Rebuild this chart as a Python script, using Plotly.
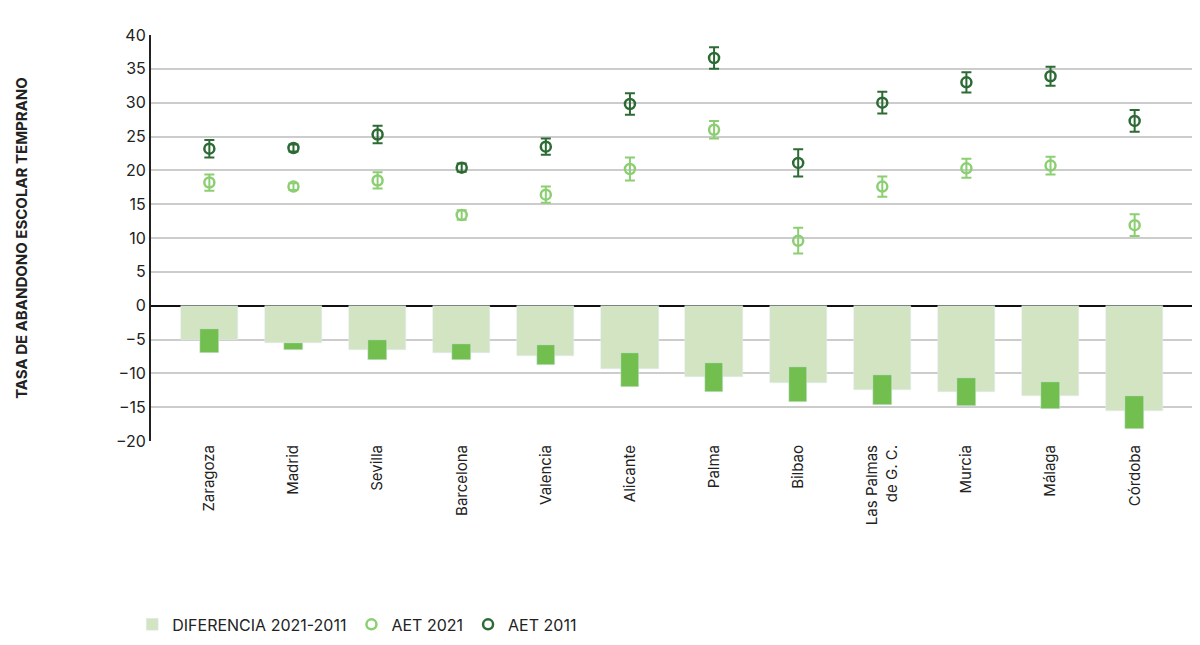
import plotly.graph_objects as go

# Datos
ciudades = ["Zaragoza", "Madrid", "Sevilla", "Barcelona", "Valencia", "Alicante", "Palma",
            "Bilbao", "Las Palmas<br>de G. C.", "Murcia", "Málaga", "Córdoba"]
diferencia = [-5.0, -5.5, -6.5, -7.0, -7.5, -9.3, -10.5, -11.5, -12.5, -12.8, -13.3, -15.5]
ic_sup = [-3.5, -5.5, -5.0, -5.7, -5.8, -7.0, -8.5, -9.0, -10.2, -10.7, -11.3, -13.3]
ic_inf = [-7.0, -6.5, -8.0, -8.0, -8.8, -12.0, -12.7, -14.3, -14.7, -14.8, -15.2, -18.2]
aet_2011 = [23.2, 23.3, 25.3, 20.4, 23.5, 29.8, 36.6, 21.1, 30.0, 33.0, 33.9, 27.3]
err_2011 = [1.3, 0.5, 1.3, 0.6, 1.2, 1.6, 1.6, 2.0, 1.6, 1.5, 1.4, 1.6]
aet_2021 = [18.2, 17.6, 18.5, 13.4, 16.4, 20.2, 26.0, 9.6, 17.6, 20.3, 20.7, 11.9]
err_2021 = [1.2, 0.5, 1.2, 0.7, 1.2, 1.7, 1.3, 1.9, 1.5, 1.4, 1.3, 1.6]

fig = go.Figure()

fig.add_trace(go.Bar(x=ciudades, y=diferencia, marker_color="#d3e4c3", width=0.68,
                     name="DIFERENCIA 2021-2011"))
fig.add_trace(go.Bar(x=ciudades, y=[a - b for a, b in zip(ic_inf, ic_sup)], base=ic_sup,
                     marker_color="#72bf4f", width=0.22, showlegend=False, hoverinfo="skip"))

fig.add_trace(go.Scatter(x=ciudades, y=aet_2021, mode="markers", name="AET 2021",
                         marker=dict(symbol="circle-open", size=10, color="#8ccf72", line=dict(width=2.5)),
                         error_y=dict(type="data", array=err_2021, color="#8ccf72", thickness=2, width=5)))
fig.add_trace(go.Scatter(x=ciudades, y=aet_2011, mode="markers", name="AET 2011",
                         marker=dict(symbol="circle-open", size=10, color="#2d6b35", line=dict(width=2.5)),
                         error_y=dict(type="data", array=err_2011, color="#2d6b35", thickness=2, width=5)))

fig.update_layout(
    width=1200, height=645, barmode="overlay", bargap=0,
    plot_bgcolor="white", paper_bgcolor="white",
    font=dict(family="Inter, Roboto, sans-serif", size=15, color="#222"),
    margin=dict(l=140, r=15, t=27, b=202),
    xaxis=dict(tickangle=-90, showgrid=False, showline=False, ticks="", tickfont=dict(size=15)),
    yaxis=dict(range=[-20, 40], dtick=5, gridcolor="#cccccc", gridwidth=1.5,
               showline=True, linecolor="#222", linewidth=2,
               zeroline=True, zerolinecolor="#111", zerolinewidth=2, tickfont=dict(size=16),
               title=dict(text="<b>TASA DE ABANDONO ESCOLAR TEMPRANO</b>", font=dict(size=15), standoff=85)),
    legend=dict(orientation="h", x=-0.018, y=-0.41, xanchor="left", yanchor="top",
                font=dict(size=16), traceorder="normal"),
)

fig.write_html("out.html")
